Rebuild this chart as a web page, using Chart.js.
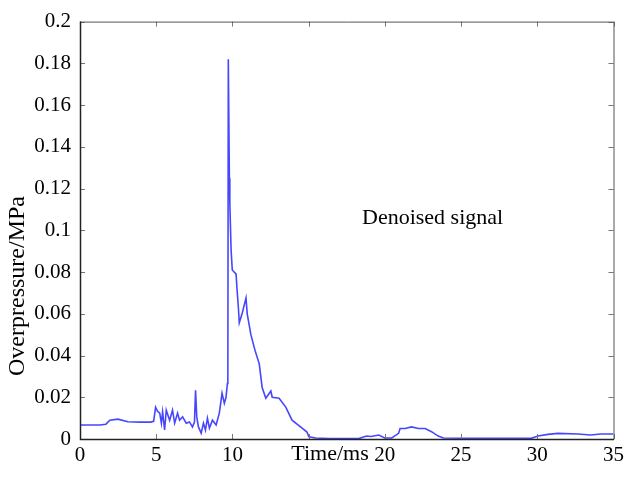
<!DOCTYPE html>
<html>
<head>
<meta charset="utf-8">
<script src="https://cdn.jsdelivr.net/npm/chart.js@4/dist/chart.umd.min.js"></script>
<style>
html,body{margin:0;padding:0;background:#fff;}
#wrap{width:628px;height:490px;position:relative;}
</style>
</head>
<body>
<div id="wrap"><canvas id="c" width="628" height="490"></canvas></div>
<script>
// time in ms
const timeMs = [0,1.31,1.70,1.96,2.48,3.14,3.92,4.64,4.83,4.96,5.09,5.23,5.34,5.42,5.55,5.66,5.88,6.07,6.21,6.40,6.53,6.73,6.97,7.18,7.38,7.51,7.58,7.66,7.77,7.95,8.10,8.23,8.36,8.49,8.69,8.93,9.14,9.32,9.47,9.58,9.67,9.70,9.73,9.76,9.80,9.83,9.91,9.99,10.24,10.30,10.39,10.45,10.65,10.89,10.97,11.21,11.50,11.76,11.95,12.19,12.52,12.61,13.06,13.50,13.91,14.57,14.89,15.02,15.46,16.33,18.29,18.8,19.1,19.6,20.0,20.45,20.9,21.0,21.34,21.75,22.2,22.65,23.06,23.5,23.84,26.0,29.6,30.05,30.7,31.35,32.66,33.5,34.16,35.0];
// overpressure in MPa
const overpressure = [0.0067,0.0067,0.0071,0.009,0.0095,0.0083,0.0081,0.0081,0.0085,0.0152,0.0133,0.0124,0.0076,0.013,0.0043,0.0138,0.009,0.0138,0.0076,0.0124,0.009,0.0106,0.0076,0.0082,0.0058,0.0081,0.0233,0.0106,0.0058,0.0028,0.0076,0.0043,0.010,0.0052,0.009,0.0067,0.0124,0.0219,0.0171,0.020,0.0266,0.028,0.182,0.182,0.125,0.113,0.091,0.081,0.079,0.072,0.063,0.0557,0.0605,0.0676,0.060,0.050,0.042,0.036,0.0247,0.0195,0.023,0.020,0.0195,0.0153,0.009,0.0052,0.0033,0.0011,0.0005,0.0002,0.0002,0.0014,0.0012,0.0019,0.0005,0.0005,0.0027,0.005,0.005,0.0058,0.005,0.005,0.0035,0.0014,0.0005,0.0003,0.0003,0.0014,0.0022,0.0027,0.0024,0.0019,0.0024,0.0024];
const xTicks = [0,5,10,15,20,25,30,35];
const yTicks = ['0','0.02','0.04','0.06','0.08','0.1','0.12','0.14','0.16','0.18','0.2'];
const xTitle = 'Time/ms';
const yTitle = 'Overpressure/MPa';
const annotationText = 'Denoised signal';

const points = timeMs.map((t, i) => ({x: t, y: overpressure[i]}));
const FONT = '"Liberation Serif", "Times New Roman", serif';

const framePlugin = {
  id: 'frame',
  afterDraw(chart) {
    const ctx = chart.ctx;
    const a = chart.chartArea;
    const xs = chart.scales.x, ys = chart.scales.y;
    ctx.save();
    // ticks inward
    ctx.strokeStyle = '#777';
    ctx.lineWidth = 1;
    ctx.beginPath();
    xTicks.forEach(v => {
      const px = Math.round(xs.getPixelForValue(v)) + 0.5;
      ctx.moveTo(px, a.bottom); ctx.lineTo(px, a.bottom - 5);
      ctx.moveTo(px, a.top); ctx.lineTo(px, a.top + 5);
    });
    yTicks.forEach(s => {
      const py = Math.round(ys.getPixelForValue(parseFloat(s))) + 0.5;
      ctx.moveTo(a.left, py); ctx.lineTo(a.left + 5, py);
      ctx.moveTo(a.right, py); ctx.lineTo(a.right - 5, py);
    });
    ctx.stroke();
    // frame
    ctx.strokeStyle = '#555';
    ctx.beginPath();
    ctx.moveTo(a.left + 0.5, a.top + 0.5); ctx.lineTo(a.right + 0.5, a.top + 0.5);
    ctx.lineTo(a.right + 0.5, a.bottom + 0.5);
    ctx.stroke();
    ctx.strokeStyle = '#222';
    ctx.lineWidth = 1.5;
    ctx.beginPath();
    ctx.moveTo(a.left + 0.5, a.top); ctx.lineTo(a.left + 0.5, a.bottom + 0.5);
    ctx.lineTo(a.right + 0.5, a.bottom + 0.5);
    ctx.stroke();
    // titles and annotation
    ctx.font = '22px ' + FONT;
    ctx.textAlign = 'center';
    ctx.textBaseline = 'middle';
    const w = ctx.measureText(xTitle).width;
    ctx.fillStyle = '#fff';
    ctx.fillRect(330 - w / 2 - 3, 442, w + 6, 26);
    ctx.fillStyle = '#000';
    ctx.fillText(xTitle, 330, 454);
    ctx.save();
    ctx.translate(18, 286);
    ctx.rotate(-Math.PI / 2);
    ctx.font = '24px ' + FONT;
    ctx.fillText(yTitle, 0, 0);
    ctx.restore();
    ctx.font = '22px ' + FONT;
    ctx.textAlign = 'left';
    ctx.fillText(annotationText, 362, 218);
    ctx.restore();
  }
};

new Chart(document.getElementById('c'), {
  type: 'line',
  data: {
    datasets: [{
      data: points,
      borderColor: 'rgba(50,50,255,0.9)',
      borderWidth: 1.6,
      pointRadius: 0,
      tension: 0,
      fill: false
    }]
  },
  options: {
    responsive: false,
    animation: false,
    events: [],
    layout: {padding: {left: 0, right: 12, top: 18, bottom: 0}},
    plugins: {legend: {display: false}, tooltip: {enabled: false}},
    scales: {
      x: {
        type: 'linear', min: 0, max: 35,
        afterFit(s) { s.height = 51; },
        afterBuildTicks(s) { s.ticks = xTicks.map(v => ({value: v})); },
        grid: {display: false, drawTicks: false},
        border: {display: false},
        ticks: {
          color: '#000', padding: 4, maxRotation: 0,
          font: {family: FONT, size: 21},
          callback: v => String(v)
        }
      },
      y: {
        min: 0, max: 0.2,
        afterFit(s) { s.width = 80; },
        afterBuildTicks(s) { s.ticks = yTicks.map(t => ({value: parseFloat(t)})); },
        grid: {display: false, drawTicks: false},
        border: {display: false},
        ticks: {
          color: '#000', padding: 9,
          font: {family: FONT, size: 21},
          callback: (v) => yTicks.find(t => Math.abs(parseFloat(t) - v) < 1e-9) || ''
        }
      }
    }
  },
  plugins: [framePlugin]
});
</script>
</body>
</html>
